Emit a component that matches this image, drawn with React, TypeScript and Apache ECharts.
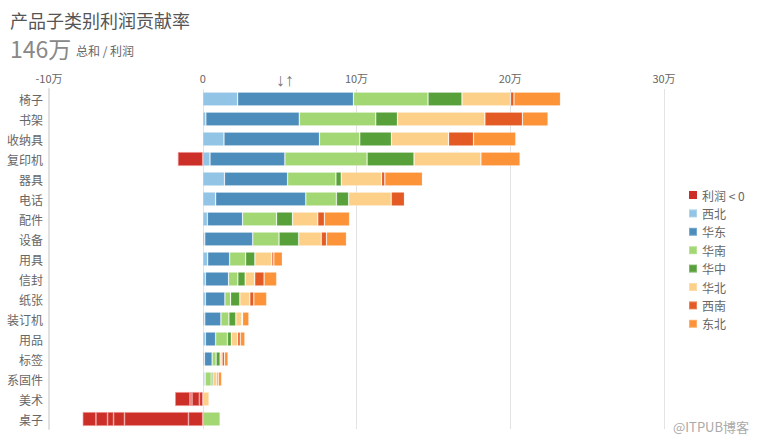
import React, { useEffect, useRef } from "react";
import * as echarts from "echarts";

const categories = ["椅子", "书架", "收纳具", "复印机", "器具", "电话", "配件", "设备", "用具", "信封", "纸张", "装订机", "用品", "标签", "系固件", "美术", "桌子"];
const regions = ["西北", "华东", "华南", "华中", "华北", "西南", "东北"];
// profit in 万 per region and sub-category
const xibei = [2.27, 0.2, 1.38, 0.47, 1.41, 0.84, 0.3, 0.13, 0.32, 0.17, 0.17, 0.13, 0.17, 0.11, 0.09, -0.22, -0.93];
const huadong = [7.53, 6.08, 6.21, 4.87, 4.11, 5.86, 2.29, 3.12, 1.43, 1.51, 1.27, 1.05, 0.67, 0.5, 0.07, -0.48, -4.16];
const huanan = [4.85, 4.97, 2.62, 5.35, 3.14, 1.99, 2.21, 1.71, 1.04, 0.6, 0.37, 0.52, 0.76, 0.26, 0.39, 0, 1.13];
const huazhong = [2.21, 1.41, 2.06, 3.05, 0.35, 0.8, 1.04, 1.28, 0.6, 0.48, 0.6, 0.45, 0.26, 0.26, 0.11, -0.13, -0.71];
const huabei = [3.16, 5.69, 3.72, 4.35, 2.62, 2.77, 1.64, 1.47, 1.1, 0.62, 0.65, 0.39, 0.41, 0.13, 0.26, 0.41, -0.39];
const xinan = [0.22, 2.44, 1.62, -1.62, 0.21, 0.86, 0.43, 0.34, 0.13, 0.61, 0.26, 0.05, 0.17, 0.15, 0.09, -0.97, -0.76];
const dongbei = [3.03, 1.67, 2.75, 2.55, 2.45, 0, 1.64, 1.3, 0.56, 0.82, 0.84, 0.41, 0.3, 0.24, 0.22, 0, -0.86];
const regionValues = [xibei, huadong, huanan, huazhong, huabei, xinan, dongbei];
const regionColors = ["#92c4e6", "#4c8dbc", "#a2d773", "#58a13a", "#fdd08a", "#e35a24", "#fc9338"];
const negName = "利润 < 0";
const negColor = "#cb2f27";
const xTicks = { min: -10, max: 30, interval: 10 };
const totalText = "146万";

export default function App() {
  const ref = useRef<HTMLDivElement>(null);
  useEffect(() => {
    if (!ref.current) return;
    const chart = echarts.init(ref.current, null, { renderer: "svg" });
    const font = "'Noto Sans CJK SC', 'Noto Sans', sans-serif";
    const series: any[] = [
      {
        name: negName,
        type: "bar",
        stack: "total",
        barWidth: 14,
        itemStyle: { color: negColor },
        data: [],
      },
      ...regions.map((r, i) => ({
        name: r,
        type: "bar",
        stack: "total",
        barWidth: 14,
        itemStyle: { color: regionColors[i], borderColor: "rgba(255,255,255,0.25)", borderWidth: 0.8 },
        emphasis: { disabled: true },
        data: regionValues[i].map((v) =>
          v === 0
            ? null
            : v < 0
            ? { value: v, itemStyle: { color: negColor, borderColor: "rgba(240,150,150,0.8)", borderWidth: 0.8 } }
            : v
        ),
      })),
    ];
    chart.setOption({
      animation: false,
      backgroundColor: "#ffffff",
      textStyle: { fontFamily: font },
      grid: { left: 49, right: 99, top: 89, bottom: 14, containLabel: false },
      xAxis: {
        type: "value",
        position: "top",
        min: xTicks.min,
        max: xTicks.max,
        interval: xTicks.interval,
        axisLine: { show: false },
        axisTick: { show: false },
        axisLabel: {
          color: "#666",
          fontSize: 11,
          margin: 6,
          fontFamily: font,
          formatter: (v: number) => (v === 0 ? "0" : v + "万"),
        },
        splitLine: { show: true, lineStyle: { color: "#e3e3e3", width: 1 } },
      },
      yAxis: {
        type: "category",
        data: categories,
        inverse: true,
        axisLine: { show: true, onZero: false, lineStyle: { color: "#e0e0e0", width: 2 } },
        axisTick: { show: false },
        axisLabel: { color: "#666", fontSize: 12, margin: 6, fontFamily: font },
      },
      legend: {
        orient: "vertical",
        left: 683,
        top: 184,
        icon: "rect",
        itemWidth: 8,
        itemHeight: 8,
        itemGap: 6.4,
        textStyle: { color: "#666", fontSize: 12, fontFamily: font },
        data: [negName, ...regions],
      },
      graphic: [
        {
          type: "text",
          left: 10,
          top: 11,
          style: { text: "产品子类别利润贡献率", fill: "#555", fontSize: 18, fontFamily: font },
        },
        {
          type: "text",
          left: 10,
          top: 36,
          style: { text: totalText, fill: "#888", fontSize: 23, fontFamily: font },
        },
        {
          type: "text",
          left: 76,
          top: 44,
          style: { text: "总和 / 利润", fill: "#666", fontSize: 12, fontFamily: font },
        },
        {
          type: "text",
          left: 276,
          top: 71,
          style: { text: "↓↑", fill: "#777", fontSize: 18, fontFamily: "Liberation Sans" },
        },
        {
          type: "text",
          left: 673,
          top: 420,
          style: { text: "@ITPUB博客", fill: "#aaa", fontSize: 13, fontFamily: font },
        },
      ],
      series,
    });
    return () => chart.dispose();
  }, []);
  return <div ref={ref} style={{ position: "fixed", left: 0, top: 0, width: 763, height: 443 }} />;
}
